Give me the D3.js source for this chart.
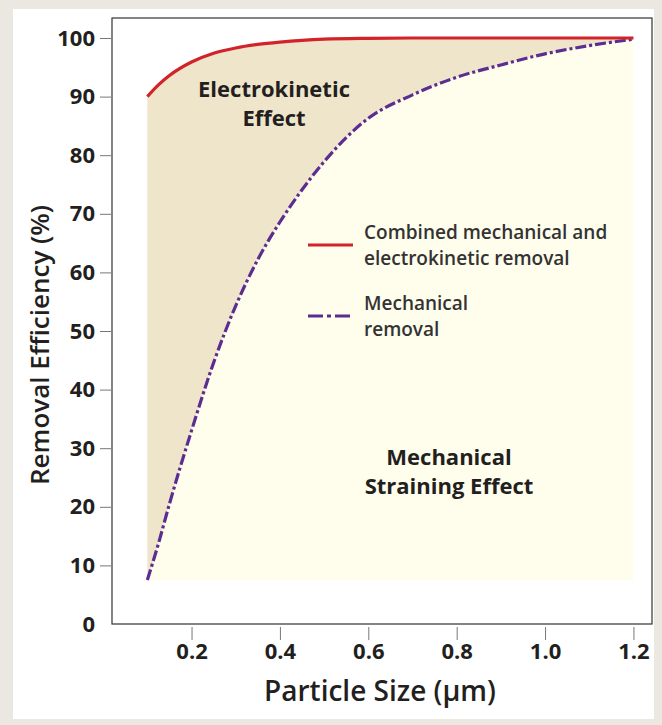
<!DOCTYPE html>
<html>
<head>
<meta charset="utf-8">
<script src="https://cdn.jsdelivr.net/npm/d3@7"></script>
<style>
  body { margin: 0; background: #ebe8e1; }
  svg { display: block; font-family: "Open Sans", "Noto Sans", sans-serif; }
</style>
</head>
<body>
<svg id="chart" width="662" height="725"></svg>
<script>
// particle size (um)
var sizes = [0.1, 0.125, 0.15, 0.2, 0.25, 0.3, 0.35, 0.4, 0.45, 0.5, 0.6, 0.7, 0.8, 0.9, 1.0, 1.1, 1.2];
// combined mechanical + electrokinetic removal (%)
var combined = [90, 92.0, 93.6, 95.9, 97.4, 98.3, 98.9, 99.3, 99.6, 99.8, 99.95, 100, 100, 100, 100, 100, 100];
// mechanical removal only (%)
var mechanical = [7.5, 13.7, 20.5, 33, 44.6, 54.3, 62.2, 68.6, 74.1, 78.9, 86.3, 90.3, 93.3, 95.4, 97.3, 98.7, 99.8];
var floorValue = 7.5;

var yTicks = [0, 10, 20, 30, 40, 50, 60, 70, 80, 90, 100];
var xTicks = [0.2, 0.4, 0.6, 0.8, 1.0, 1.2];

var svg = d3.select("#chart");

// white panel
svg.append("rect")
    .attr("x", 13).attr("y", 9)
    .attr("width", 641).attr("height", 710)
    .attr("fill", "#fff");

var x = d3.scaleLinear().domain([0.02, 1.242]).range([112, 652]);
var y = d3.scaleLinear().domain([0, 100]).range([624, 38]);

var pts = sizes.map(function(s, i) {
    return { s: s, c: combined[i], m: mechanical[i] };
});

// mechanical straining region
svg.append("path")
    .datum(pts)
    .attr("fill", "#fffdec")
    .attr("d", d3.area()
        .curve(d3.curveMonotoneX)
        .x(function(d) { return x(d.s); })
        .y0(y(floorValue))
        .y1(function(d) { return y(d.m); }));

// electrokinetic region
svg.append("path")
    .datum(pts)
    .attr("fill", "#efe5cb")
    .attr("d", d3.area()
        .curve(d3.curveMonotoneX)
        .x(function(d) { return x(d.s); })
        .y0(function(d) { return y(d.m); })
        .y1(function(d) { return y(d.c); }));

// frame
svg.append("rect")
    .attr("x", 112).attr("y", 18)
    .attr("width", 540).attr("height", 606)
    .attr("fill", "none")
    .attr("stroke", "#333")
    .attr("stroke-width", 1.2);

// curves
svg.append("path")
    .datum(pts)
    .attr("fill", "none")
    .attr("stroke", "#5c2d91")
    .attr("stroke-width", 3.2)
    .attr("stroke-dasharray", "11,3,3,3")
    .attr("d", d3.line().curve(d3.curveMonotoneX)
        .x(function(d) { return x(d.s); })
        .y(function(d) { return y(d.m); }));

svg.append("path")
    .datum(pts)
    .attr("fill", "none")
    .attr("stroke", "#d2232a")
    .attr("stroke-width", 3.2)
    .attr("d", d3.line().curve(d3.curveMonotoneX)
        .x(function(d) { return x(d.s); })
        .y(function(d) { return y(d.c); }));

// y axis
var yAxis = svg.append("g")
    .attr("transform", "translate(111,0)")
    .call(d3.axisLeft(y).tickValues(yTicks).tickSize(11).tickPadding(5));
yAxis.select(".domain").remove();
yAxis.selectAll(".tick line").attr("stroke", "#777")
    .attr("display", function(d) { return d === 0 ? "none" : null; });
yAxis.selectAll(".tick text")
    .attr("font-size", 22).attr("font-weight", 700).attr("fill", "#231f20")
    .attr("font-family", "'Open Sans', sans-serif")
    .attr("x", -16);

// x axis
var xAxis = svg.append("g")
    .attr("transform", "translate(0,627)")
    .call(d3.axisBottom(x).tickValues(xTicks).tickSize(13).tickPadding(3)
        .tickFormat(d3.format(".1f")));
xAxis.select(".domain").remove();
xAxis.selectAll(".tick line").attr("stroke", "#777");
xAxis.selectAll(".tick text")
    .attr("font-size", 22).attr("font-weight", 700).attr("fill", "#231f20")
    .attr("font-family", "'Open Sans', sans-serif");

// axis titles
svg.append("text")
    .attr("transform", "translate(49,345) rotate(-90)")
    .attr("text-anchor", "middle")
    .attr("font-size", 26).attr("font-weight", 600).attr("fill", "#231f20")
    .text("Removal Efficiency (%)");

svg.append("text")
    .attr("x", 380).attr("y", 701)
    .attr("text-anchor", "middle")
    .attr("font-size", 28).attr("font-weight", 600).attr("fill", "#231f20")
    .text("Particle Size (µm)");

// region labels
function block(lines, cx, cy, size, weight) {
    var t = svg.append("text")
        .attr("text-anchor", "middle")
        .attr("font-size", size).attr("font-weight", weight).attr("fill", "#231f20");
    lines.forEach(function(l, i) {
        t.append("tspan").attr("x", cx).attr("y", cy + i * 29).text(l);
    });
}
block(["Electrokinetic", "Effect"], 274, 97, 22, 700);
block(["Mechanical", "Straining Effect"], 449, 465, 22, 700);

// legend
svg.append("line")
    .attr("x1", 308).attr("x2", 353).attr("y1", 245).attr("y2", 245)
    .attr("stroke", "#d2232a").attr("stroke-width", 3);
svg.append("line")
    .attr("x1", 308).attr("x2", 353).attr("y1", 316).attr("y2", 316)
    .attr("stroke", "#5c2d91").attr("stroke-width", 3)
    .attr("stroke-dasharray", "15,4,4,4");

var legText = [
    { lines: ["Combined mechanical and", "electrokinetic removal"], y: 239 },
    { lines: ["Mechanical", "removal"], y: 310 }
];
legText.forEach(function(g) {
    var t = svg.append("text")
        .attr("font-size", 19).attr("font-weight", 600).attr("fill", "#333");
    g.lines.forEach(function(l, i) {
        t.append("tspan").attr("x", 364).attr("y", g.y + i * 26).text(l);
    });
});
</script>
</body>
</html>
